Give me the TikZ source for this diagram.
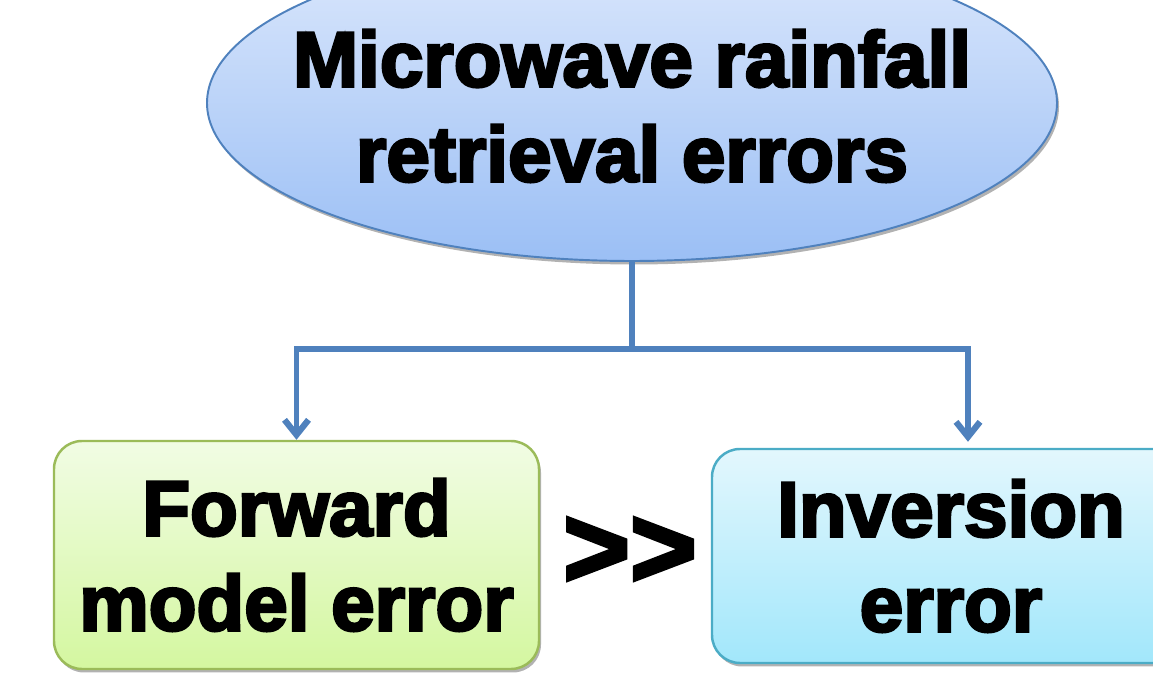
\documentclass[tikz,border=0pt]{standalone}
\usepackage{fontspec}
\newfontfamily\heavyfont[FakeBold=3.5]{Liberation Sans Bold}
\usepackage{xcolor}
\usetikzlibrary{arrows.meta,positioning,shapes.geometric,shadows}

\definecolor{lineblue}{HTML}{4F81BD}
\definecolor{topictop}{HTML}{DCE8FC}
\definecolor{topicbot}{HTML}{9BBFF5}
\definecolor{fwdline}{HTML}{9BBB59}
\definecolor{fwdtop}{HTML}{F1FCE4}
\definecolor{fwdbot}{HTML}{D4F7A0}
\definecolor{invline}{HTML}{4BACC6}
\definecolor{invtop}{HTML}{E3F7FD}
\definecolor{invbot}{HTML}{A2E7FB}

\begin{document}
\begin{tikzpicture}[font=\heavyfont\fontsize{44.5pt}{54pt}\selectfont,
  >={Straight Barb[length=3mm,width=4.8mm,line width=0.5pt 1]},
  conn/.style={line width=3pt, lineblue},
  softshadow/.style={drop shadow={shadow xshift=0.04cm, shadow yshift=-0.07cm, opacity=0.3, fill=black}},
  topic/.style={ellipse, draw=lineblue, line width=1.1pt, top color=topictop, bottom color=topicbot,
    minimum width=17cm, minimum height=6.32cm, inner sep=0pt, softshadow},
  errbox/.style={rectangle, rounded corners=0.56cm, line width=1.4pt, inner sep=0pt, align=center, softshadow}]
\useasboundingbox (0,0) rectangle (23.06,14);

\node[topic] (mw) at (12.64,11.94) {};
\node[align=center] (mwtext) at ([yshift=-0.06cm]mw.center) {Microwave rainfall\\retrieval errors};

\node[errbox, draw=fwdline, top color=fwdtop, bottom color=fwdbot,
  minimum width=9.7cm, minimum height=4.56cm] (fwd) at (5.93,2.9) {Forward\\model error};
\node[errbox, draw=invline, top color=invtop, bottom color=invbot,
  minimum width=9.56cm, minimum height=4.28cm] (inv) at (19.02,2.88) {Inversion\\error};

\node[font=\heavyfont\fontsize{65pt}{70pt}\selectfont] (much) at (12.6,2.95) {>>};

\draw[conn] (mw.south) -- ++(0,-1.74) coordinate (fork);
\draw[conn,->] (fork) -| (fwd.north);
\draw[conn,->] (fork) -| ([xshift=0.34cm,yshift=0.12cm]inv.north);
\end{tikzpicture}
\end{document}
